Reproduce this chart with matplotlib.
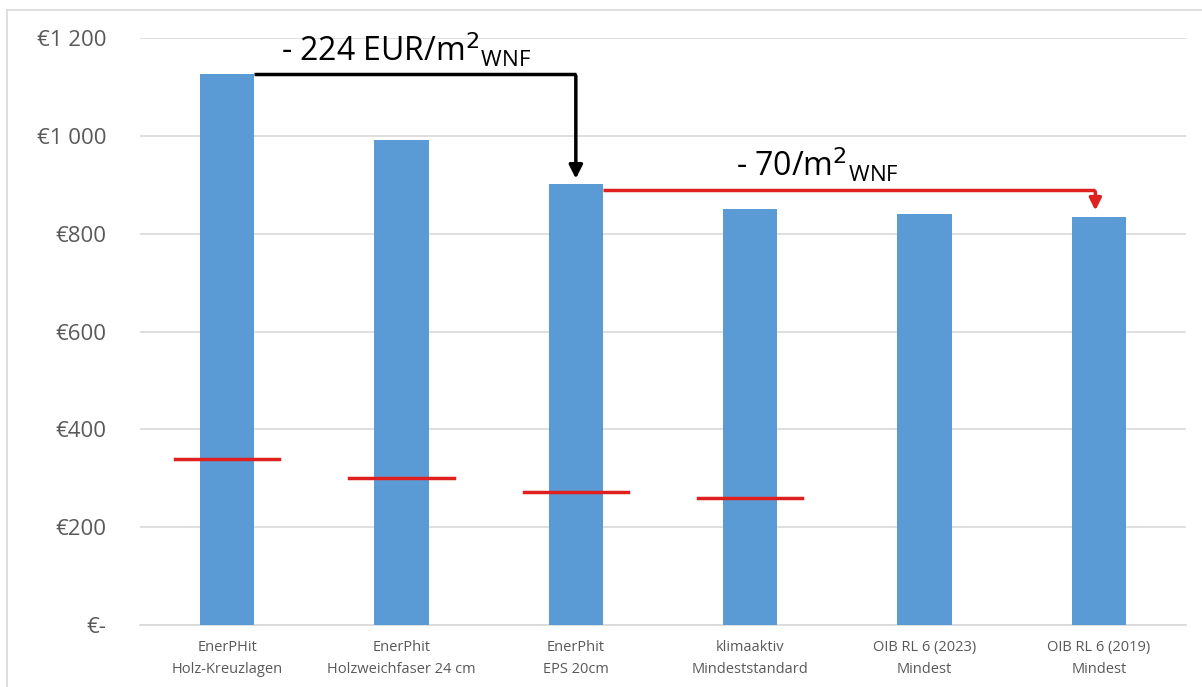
import matplotlib.pyplot as plt
from matplotlib.lines import Line2D

# Daten
kategorien = ['EnerPHit\nHolz-Kreuzlagen', 'EnerPhit\nHolzweichfaser 24 cm', 'EnerPhit\nEPS 20cm',
              'klimaaktiv\nMindeststandard', 'OIB RL 6 (2023)\nMindest', 'OIB RL 6 (2019)\nMindest']
kosten = [1127, 991, 902, 850, 840, 834]
rote_linie = [339, 300, 272, 260]
yticks = [0, 200, 400, 600, 800, 1000, 1200]
ytick_labels = ['€-', '€200', '€400', '€600', '€800', '€1 000', '€1 200']

blau = '#5B9BD5'
rot = '#E0201E'
grau = '#595959'

plt.rcParams['font.family'] = ['Open Sans', 'DejaVu Sans']

fig = plt.figure(figsize=(12.02, 6.87), dpi=100)
ax = fig.add_axes([140/1202, 1 - 625/687, (1186 - 140)/1202, (625 - 38.2)/687])

x = list(range(len(kategorien)))
ax.bar(x, kosten, width=0.31, color=blau, zorder=3)

# rote Striche
for i, v in enumerate(rote_linie):
    ax.plot([i - 0.3, i + 0.3], [v, v], color=rot, lw=2.5, zorder=4)

ax.set_xlim(-0.5, len(kategorien) - 0.5)
ax.set_ylim(0, 1200)
ax.set_yticks(yticks)
ax.set_yticklabels(ytick_labels, fontsize=16, color=grau)
ax.set_xticks(x)
ax.set_xticklabels(kategorien, fontsize=10.5, color=grau, linespacing=1.6)
ax.tick_params(length=0, pad=11)
ax.tick_params(axis='y', pad=24)
ax.grid(axis='y', color='#D9D9D9', lw=1.2, zorder=0)
for s in ['top', 'right', 'left']:
    ax.spines[s].set_visible(False)
ax.spines['bottom'].set_color('#D9D9D9')
ax.spines['bottom'].set_linewidth(1.2)

# schwarzer Pfeil
b = 0.155
ax.plot([0 + b, 2], [kosten[0], kosten[0]], color='black', lw=2.5, zorder=5, solid_capstyle='butt')
ax.annotate('', xy=(2, kosten[2] + 5), xytext=(2, kosten[0] + 2),
            arrowprops=dict(arrowstyle='-|>', color='black', lw=2.5, mutation_scale=20), zorder=5)
ax.text(1.025, 1175, '- 224 EUR/m$^2$$_{\\mathregular{WNF}}$', fontsize=23, ha='center', va='center',
        color='black', zorder=6)

# roter Pfeil
y_rot = 890
ax.plot([2 + b, 5 - 0.02], [y_rot, y_rot], color=rot, lw=2.5, zorder=5, solid_capstyle='butt')
ax.annotate('', xy=(5 - 0.02, kosten[5] + 8), xytext=(5 - 0.02, y_rot + 2),
            arrowprops=dict(arrowstyle='-|>', color=rot, lw=2.5, mutation_scale=18), zorder=5)
ax.text(3.385, 940, '- 70/m$^2$$_{\\mathregular{WNF}}$', fontsize=23, ha='center', va='center',
        color='black', zorder=6)

# Rahmen oben/links
fig.add_artist(Line2D([7/1202, 1], [1 - 10/687, 1 - 10/687], color='#D9D9D9', lw=1.2))
fig.add_artist(Line2D([7/1202, 7/1202], [0, 1 - 10/687], color='#D9D9D9', lw=1.2))

fig.savefig('out.png', dpi=100)
